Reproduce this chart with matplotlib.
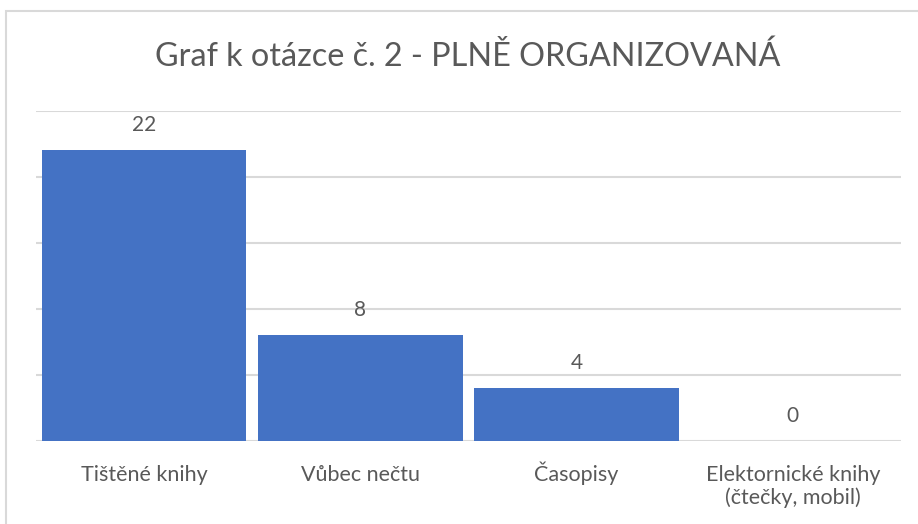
import matplotlib.pyplot as plt
from matplotlib.patches import Rectangle

# data
categories = ['Tištěné knihy', 'Vůbec nečtu', 'Časopisy', 'Elektornické knihy\n(čtečky, mobil)']
values = [22, 8, 4, 0]

plt.rcParams['font.family'] = ['Lato', 'DejaVu Sans']
grey = '#595959'

fig = plt.figure(figsize=(9.18, 5.24), dpi=100)
ax = fig.add_axes([0.039, 0.158, 0.9425, 0.631])

x = range(len(categories))
bars = ax.bar(x, values, width=0.946, color='#4472C4', zorder=3)

for b, v in zip(bars, values):
    ax.annotate(str(v), (b.get_x() + b.get_width() / 2, v), xytext=(0, 11),
                textcoords='offset points', ha='center', va='bottom',
                fontsize=15, color=grey)

# category labels, each line on its own baseline
for xi, lab in zip(x, categories):
    for k, line in enumerate(lab.split('\n')):
        ax.text(xi, -0.12 - 0.071 * k, line, transform=ax.get_xaxis_transform(),
                ha='center', va='baseline', fontsize=15.5, color=grey)

ax.set_xlim(-0.5, len(categories) - 0.5)
ax.set_ylim(0, 25)
ax.set_yticks([0, 5, 10, 15, 20, 25])
ax.set_yticklabels([])
ax.set_xticks([])
ax.tick_params(axis='y', length=0)
ax.grid(axis='y', color='#d9d9d9', linewidth=1.5, zorder=0)
for s in ax.spines.values():
    s.set_visible(False)

fig.text(0.509, 0.874, 'Graf k otázce č. 2 - PLNĚ ORGANIZOVANÁ', ha='center',
         va='baseline', fontsize=23.3, color=grey)

# chart frame
fig.patches.append(Rectangle((6 / 918, -0.1), 1.0, 1 - 11 / 524 + 0.1,
                             transform=fig.transFigure, fill=False,
                             edgecolor='#d9d9d9', linewidth=1.5))

fig.savefig('out.png', dpi=100)
